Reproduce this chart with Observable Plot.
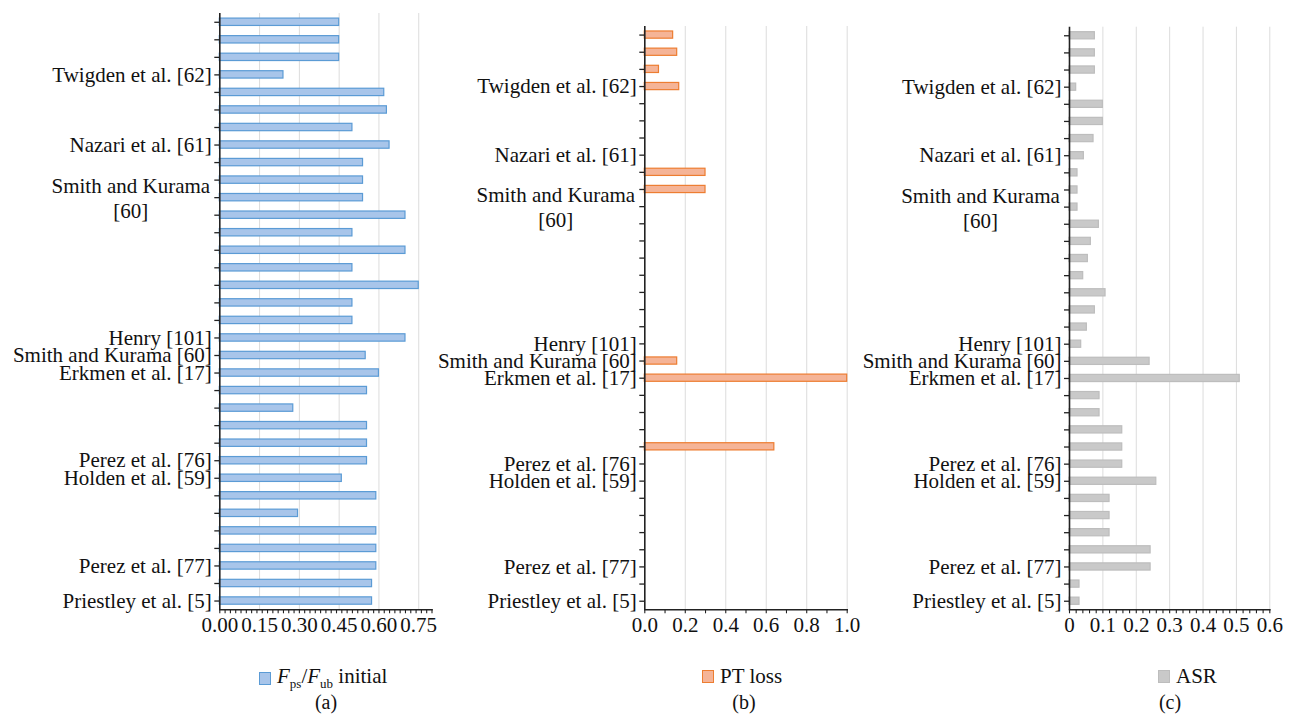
<!DOCTYPE html>
<html>
<head>
<meta charset="utf-8">
<script src="https://cdn.jsdelivr.net/npm/d3@7"></script>
<script src="https://cdn.jsdelivr.net/npm/@observablehq/plot@0.6"></script>
<style>
  html, body { margin: 0; padding: 0; background: #fff; }
  #root { position: relative; width: 1297px; height: 720px; overflow: hidden; font-family: 'Liberation Serif', serif; color: #111; }
  #root svg, #root svg text { font-family: 'Liberation Serif', serif !important; }
  .panel { position: absolute; top: 0; }
  .legend { position: absolute; top: 664px; display: flex; align-items: center; font-family: 'Liberation Serif', serif; font-size: 21px; white-space: nowrap; }
  .sw { width: 10px; height: 11px; margin-right: 6px; }
  .legend sub { font-size: 13px; vertical-align: -5px; }
  .cap { position: absolute; top: 691px; font-family: 'Liberation Serif', serif; font-size: 20px; transform: translateX(-50%); }
</style>
</head>
<body>
<div id="root"></div>
<script>
// ---- data ----
const rowLabels = ["", "", "", "Twigden et al. [62]", "", "", "", "Nazari et al. [61]", "", "",
  "Smith and Kurama\n[60]", "", "", "", "", "", "", "", "Henry [101]", "Smith and Kurama [60]",
  "Erkmen et al. [17]", "", "", "", "", "Perez et al. [76]", "Holden et al. [59]", "", "", "",
  "", "Perez et al. [77]", "", "Priestley et al. [5]"];
const fpsFubInitial = [0.45, 0.45, 0.45, 0.24, 0.62, 0.63, 0.50, 0.64, 0.54, 0.54,
  0.54, 0.70, 0.50, 0.70, 0.50, 0.75, 0.50, 0.50, 0.70, 0.55,
  0.60, 0.555, 0.277, 0.555, 0.555, 0.555, 0.46, 0.59, 0.295, 0.59,
  0.59, 0.59, 0.574, 0.574];
const ptLoss = [0.14, 0.16, 0.07, 0.17, null, null, null, null, 0.30, 0.30,
  null, null, null, null, null, null, null, null, null, 0.16,
  1.0, null, null, null, 0.64, null, null, null, null, null,
  null, null, null, null];
const asr = [0.076, 0.076, 0.076, 0.02, 0.10, 0.10, 0.072, 0.043, 0.024, 0.024,
  0.024, 0.088, 0.064, 0.055, 0.041, 0.108, 0.076, 0.052, 0.035, 0.24,
  0.51, 0.09, 0.09, 0.158, 0.158, 0.158, 0.26, 0.12, 0.12, 0.12,
  0.243, 0.243, 0.03, 0.03];
const xTicksA = [0, 0.15, 0.30, 0.45, 0.60, 0.75];
const xTicksB = [0, 0.2, 0.4, 0.6, 0.8, 1.0];
const xTicksC = [0, 0.1, 0.2, 0.3, 0.4, 0.5, 0.6];

const FONT = "'Liberation Serif', serif";
const rows = d3.range(rowLabels.length);

function panel({values, xMax, ticks, minorStep, fmt, fill, stroke, left, width, mTop, mLeft, mRight}) {
  const data = rows.map(i => ({i, v: values[i]})).filter(d => d.v != null);
  const labels = rows.map(i => ({i, label: rowLabels[i]})).filter(d => d.label && !d.label.includes("\n"));
  const multi = rows.map(i => ({i, label: rowLabels[i]})).filter(d => d.label.includes("\n"));
  const minor = d3.range(0, xMax + 1e-9, minorStep);
  const svg = Plot.plot({
    width, height: 640,
    marginTop: mTop, marginBottom: 30.7, marginLeft: mLeft, marginRight: mRight,
    style: {background: "transparent", fontFamily: FONT, fontSize: "21px", color: "#111", overflow: "visible"},
    x: {domain: [0, xMax], label: null},
    y: {type: "band", domain: rows, paddingInner: 0.58, paddingOuter: 0.29, round: false, label: null},
    marks: [
      Plot.gridX(ticks.filter(t => t > 0), {stroke: "#dcdcdc", strokeOpacity: 1, strokeWidth: 1}),
      Plot.barX(data, {x: "v", y: "i", fill, stroke, strokeWidth: 1.2}),
      Plot.axisY({tickSize: 5, tickFormat: () => "", label: null, stroke: "#222", strokeWidth: 1.3}),
      Plot.axisX({ticks: minor, tickSize: 4, tickFormat: () => "", label: null, stroke: "#222", strokeWidth: 1.1}),
      Plot.axisX({ticks, tickSize: 0, tickPadding: 7, tickFormat: fmt, label: null, fontSize: 21, fontFamily: FONT, fill: "#111"}),
      Plot.ruleX([0], {stroke: "#222", strokeWidth: 1.6}),
      Plot.frame({anchor: "bottom", stroke: "#222", strokeWidth: 1.6}),
      Plot.text(labels, {y: "i", text: "label", frameAnchor: "left", textAnchor: "end", dx: -8, fill: "#111", fontSize: 21, fontFamily: FONT}),
      Plot.text(multi, {y: "i", text: "label", frameAnchor: "left", textAnchor: "middle", lineAnchor: "middle", dx: -89, fill: "#111", fontSize: 21, fontFamily: FONT, lineHeight: 1.2})
    ]
  });
  const div = document.createElement("div");
  div.className = "panel";
  div.style.left = left + "px";
  div.appendChild(svg);
  document.getElementById("root").appendChild(div);
}

panel({values: fpsFubInitial, xMax: 0.8, ticks: xTicksA, minorStep: 0.02, fmt: d3.format(".2f"),
  fill: "#a8c5ea", stroke: "#5b9bd5", left: 0, width: 450, mTop: 13, mLeft: 219.3, mRight: 18.5});
panel({values: ptLoss, xMax: 1.0, ticks: xTicksB, minorStep: 0.1, fmt: d => d.toFixed(1),
  fill: "#f5b497", stroke: "#ed7d31", left: 430, width: 440, mTop: 26, mLeft: 214.3, mRight: 23.3});
panel({values: asr, xMax: 0.6, ticks: xTicksC, minorStep: 0.02, fmt: d => d === 0 ? "0" : d.toFixed(1),
  fill: "#c9c9c9", stroke: "#bdbdbd", left: 860, width: 437, mTop: 26.7, mLeft: 209, mRight: 27.7});

// legends and captions
const root = document.getElementById("root");
function legend(left, html, fill, stroke) {
  const d = document.createElement("div");
  d.className = "legend";
  d.style.left = left + "px";
  d.innerHTML = `<span class="sw" style="background:${fill};border:1.3px solid ${stroke}"></span><span>${html}</span>`;
  root.appendChild(d);
}
function caption(cx, text) {
  const d = document.createElement("div");
  d.className = "cap";
  d.style.left = cx + "px";
  d.textContent = text;
  root.appendChild(d);
}
legend(259, "<i>F</i><sub>ps</sub>/<i>F</i><sub>ub</sub> initial", "#a8c5ea", "#5b9bd5");
legend(702, "PT loss", "#f5b497", "#ed7d31");
legend(1158, "ASR", "#c9c9c9", "#bdbdbd");
caption(326, "(a)");
caption(744, "(b)");
caption(1170, "(c)");
</script>
</body>
</html>
